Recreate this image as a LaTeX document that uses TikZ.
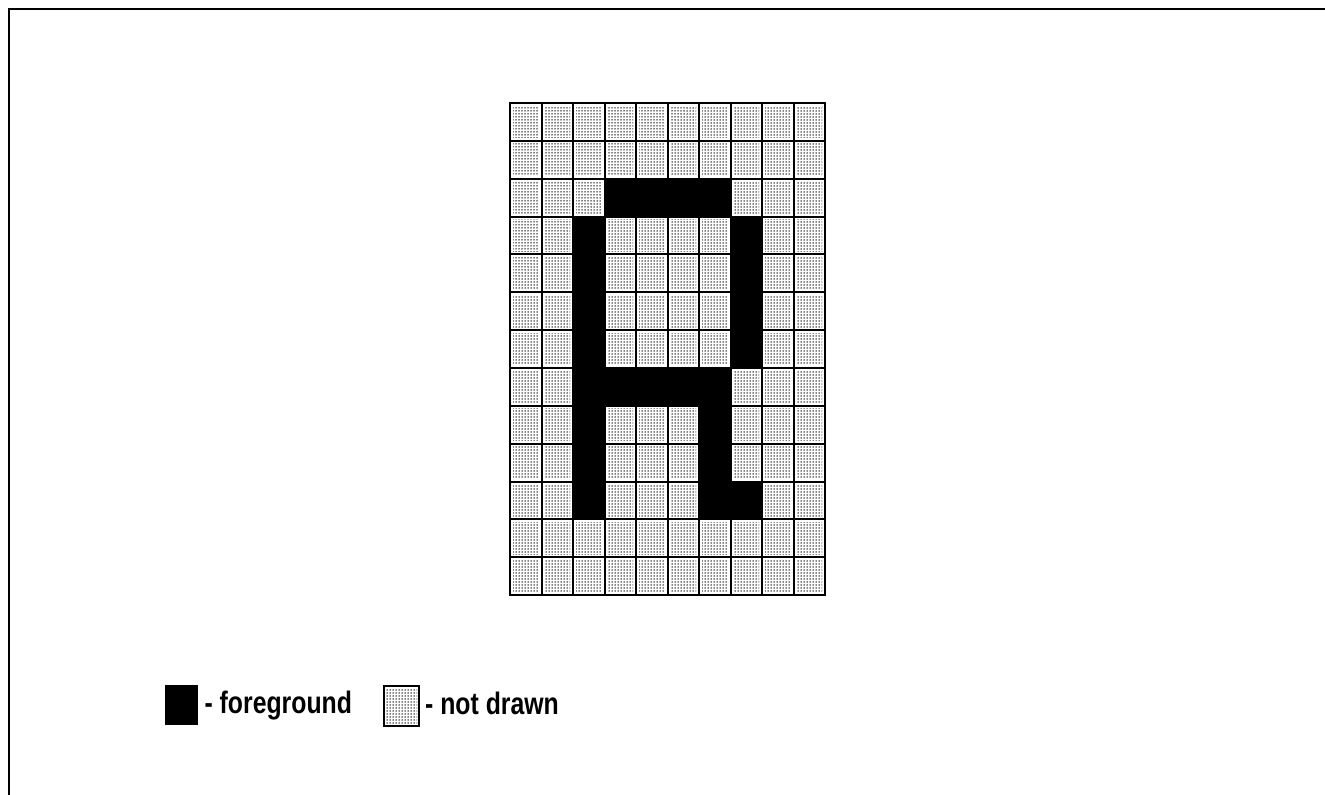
\documentclass[tikz,border=0pt]{standalone}
\usepackage{fontspec}
\newfontfamily\keyfont{Liberation Sans}[FakeStretch=0.8]
\usetikzlibrary{patterns,positioning}
\pgfdeclarepatternformonly{stipple dots}{\pgfpoint{-1pt}{-1pt}}{\pgfpoint{1pt}{1pt}}%
  {\pgfpoint{3pt}{3pt}}{\pgfpathcircle{\pgfpointorigin}{0.75pt}\pgfusepath{fill}}

\begin{document}
\begin{tikzpicture}[x=1pt, y=-1pt,
                    every node/.style={font=\keyfont\bfseries\fontsize{31}{36}\selectfont},
                    cell/.style={draw=black, line width=2pt, fill=white},
                    stipple/.style={pattern=stipple dots, pattern color=black},
                    ink/.style={fill=black},
                    keytext/.style={inner sep=0pt, text height=22pt, text depth=6pt}]
  \useasboundingbox (0,0) rectangle (1325,795);
  % frame: top and left edges only
  \draw[line width=2.5pt] (9,795) -- (9,9) -- (1325,9);

  % 10 x 13 grid of stippled cells
  \def\cw{31.5}\def\ch{37.85}
  \foreach \i in {0,...,9}
    \foreach \j in {0,...,12} {
      \draw[cell] ({510+\i*\cw},{103+\j*\ch}) rectangle ++(\cw,\ch);
      \fill[stipple] ({510+\i*\cw+3},{103+\j*\ch+3})
            rectangle ++({\cw-6},{\ch-6});
    }

  % foreground cells (column/row)
  \foreach \c/\r in {3/2, 4/2, 5/2, 6/2,
                     2/3, 7/3, 2/4, 7/4, 2/5, 7/5, 2/6, 7/6,
                     2/7, 3/7, 4/7, 5/7, 6/7,
                     2/8, 6/8, 2/9, 6/9,
                     2/10, 6/10, 7/10}
    \fill[ink] ({510+\c*\cw-1},{103+\r*\ch-1})
          rectangle ++({\cw+2},{\ch+2});
  \draw[line width=2pt] (510,103) rectangle (825,595);

  % key
  \node[ink, minimum width=33pt, minimum height=40pt, inner sep=0pt,
        anchor=north west] (fgkey) at (165,685) {};
  \node[keytext, right=6pt of fgkey] (fglabel) {- foreground};
  \node[cell, minimum width=35pt, minimum height=40pt, inner sep=0pt,
        anchor=north west] (bgkey) at (383,685) {};
  \fill[stipple] ([shift={(3,3)}]bgkey.north west)
        rectangle ([shift={(-3,-3)}]bgkey.south east);
  \node[keytext, right=5pt of bgkey] (bglabel) {- not drawn};
\end{tikzpicture}
\end{document}
